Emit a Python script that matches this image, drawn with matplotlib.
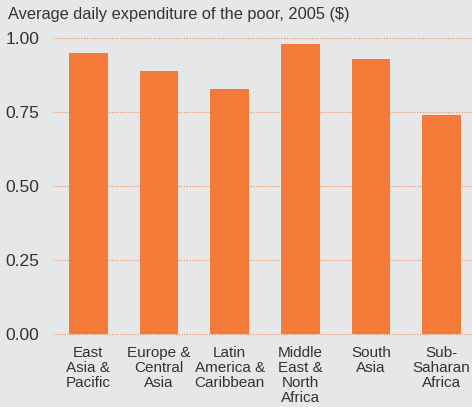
import matplotlib
matplotlib.use("Agg")
import matplotlib.pyplot as plt

regions = ["East\nAsia &\nPacific", "Europe &\nCentral\nAsia", "Latin\nAmerica &\nCaribbean",
           "Middle\nEast &\nNorth\nAfrica", "South\nAsia", "Sub-\nSaharan\nAfrica"]
spend = [0.95, 0.89, 0.83, 0.98, 0.93, 0.74]
yticks = [0.0, 0.25, 0.5, 0.75, 1.0]

bg = "#e6e7e8"
orange = "#f47a38"
txt = "#333333"

plt.rcParams["font.family"] = ["Liberation Sans", "DejaVu Sans"]

fig = plt.figure(figsize=(4.72, 4.07), dpi=100, facecolor=bg)
ax = fig.add_axes([53 / 472, 1 - 333.7 / 407, 1 - 53 / 472, 295.4 / 407])
ax.set_facecolor(bg)

x = range(len(spend))
ax.bar(x, spend, width=0.55, color=orange, zorder=3)

ax.set_ylim(0, 1.0)
ax.set_xlim(-0.5, 5.43)
ax.set_yticks(yticks)
ax.set_yticklabels([f"{v:.2f}" for v in yticks], fontsize=12.5, color=txt)
for v in yticks:
    ax.axhline(v, color=orange, lw=0.8, alpha=0.85, ls=(0, (1, 1.5)), zorder=1, clip_on=False)

ax.set_xticks(list(x))
ax.set_xticklabels(regions, fontsize=11, color=txt, va="top", linespacing=1.08)
ax.tick_params(axis="both", length=0)
ax.tick_params(axis="x", pad=9)
ax.tick_params(axis="y", pad=10)
for s in ax.spines.values():
    s.set_visible(False)

fig.text(8 / 472, 1 - 15 / 407, "Average daily expenditure of the poor, 2005 ($)",
         fontsize=11.8, color=txt, va="center", ha="left")

fig.savefig("out.png", dpi=100, facecolor=bg)
